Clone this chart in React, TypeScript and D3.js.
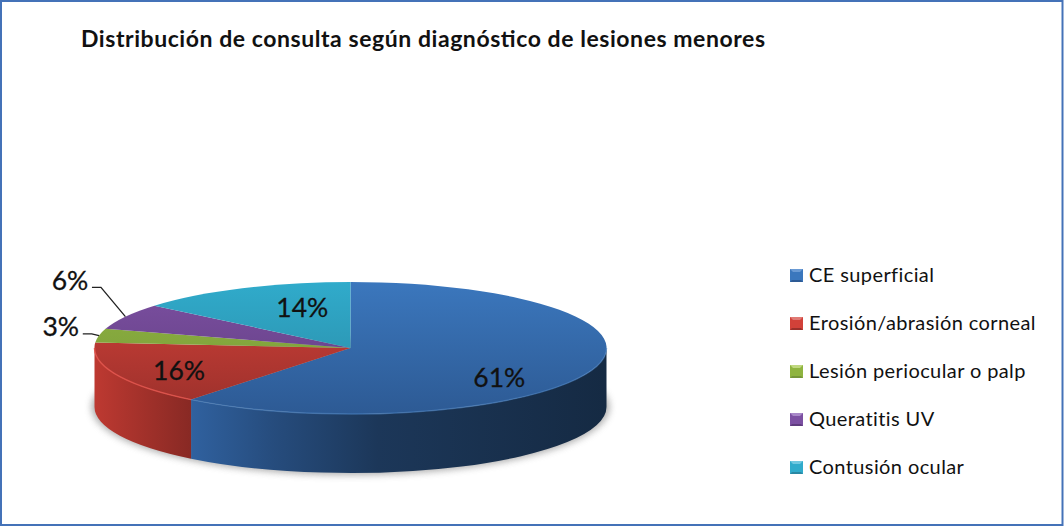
import React from 'react';
import * as d3 from 'd3';

const categories = ['CE superficial', 'Erosión/abrasión corneal', 'Lesión periocular o palp', 'Queratitis UV', 'Contusión ocular'];
const values = [60.7, 15.6, 3.4, 6.4, 13.9];
const topLight = ['#3b77bd', '#d24139', '#8fb440', '#7c50a2', '#30abcb'];
const topDark = ['#2d5a94', '#9a302b', '#76963a', '#5f3c7e', '#2a88a3'];
const rimColors = ['#4a80c0', '#e0524a', '#a0c050', '#8c60b0', '#50bcd8'];
const legendLight = ['#6a9ad4', '#e07a74', '#c0d880', '#a888c8', '#70c8e0'];

// nudges from the slice centroid to the label centre
const labelNudge: [number, number][] = [[28, 19], [-54, 9], [-164, -15], [-168, -52], [6, -11]];
const title = 'Distribución de consulta según diagnóstico de lesiones menores';

const width = 1064;
const height = 526;
const cx = 350.5;
const cy = 348;
const rx = 256;
const ry = 66;
const depth = 59;

const x = d3.scaleLinear().domain([-1, 1]).range([cx - rx, cx + rx]);
const y = d3.scaleLinear().domain([-1, 1]).range([cy - ry, cy + ry]);

const slices = d3.pie<number>().sort(null)(values);
const unitArc = d3.arc<d3.PieArcDatum<number>>().innerRadius(0).outerRadius(1);
const px = (a: number) => x(Math.sin(a));
const py = (a: number) => y(-Math.cos(a));

// front wall of a slice, only the part between 90 and 270 degrees can be seen
function wallPath(start: number, end: number) {
  const a0 = Math.max(start, Math.PI / 2);
  const a1 = Math.min(end, (3 * Math.PI) / 2);
  if (a1 <= a0) return null;
  return `M${px(a0)},${py(a0)}A${rx},${ry} 0 0 1 ${px(a1)},${py(a1)}` +
    `L${px(a1)},${py(a1) + depth}A${rx},${ry} 0 0 0 ${px(a0)},${py(a0) + depth}Z`;
}

function rimPath(start: number, end: number) {
  const a0 = Math.max(start, Math.PI / 2);
  const a1 = Math.min(end, (3 * Math.PI) / 2);
  if (a1 <= a0) return null;
  return `M${px(a0)},${py(a0)}A${rx},${ry} 0 0 1 ${px(a1)},${py(a1)}`;
}

const leader = d3.line();
const legendY = d3.scalePoint<string>().domain(categories).range([275.5, 467.5]);

export default function App() {
  return (
    <svg width={width} height={height} style={{ position: 'absolute', left: 0, top: 0, background: '#fff' }}
      fontFamily="Lato, 'Noto Sans', sans-serif">
      <defs>
        {values.map((_, i) => (
          <linearGradient key={i} id={`top${i}`} gradientUnits="userSpaceOnUse" x1="0" y1="-1" x2="0" y2="1">
            <stop offset="0" stopColor={topLight[i]} />
            <stop offset="1" stopColor={topDark[i]} />
          </linearGradient>
        ))}
        <linearGradient id="wall0" gradientUnits="userSpaceOnUse" x1={191} y1="0" x2={606} y2="0">
          <stop offset="0" stopColor="#30619f" />
          <stop offset="0.2" stopColor="#264c7d" />
          <stop offset="0.45" stopColor="#1c3759" />
          <stop offset="1" stopColor="#152a43" />
        </linearGradient>
        <linearGradient id="wall1" gradientUnits="userSpaceOnUse" x1={95} y1="0" x2={191} y2="0">
          <stop offset="0" stopColor="#bd3931" />
          <stop offset="1" stopColor="#882924" />
        </linearGradient>
        <filter id="blur" x="-10%" y="-30%" width="120%" height="160%">
          <feGaussianBlur stdDeviation="3.5" />
        </filter>
      </defs>

      <rect x={1} y={1} width={width - 2.5} height={height - 2} fill="#fff" stroke="#4472b8" strokeWidth={2} />

      <text x={81} y={47} fontSize={23} fontWeight={700} fill="#111" textLength={684} lengthAdjust="spacing">{title}</text>

      <ellipse cx={cx} cy={cy + depth} rx={rx + 3} ry={ry + 2} fill="#777" opacity={0.6} filter="url(#blur)" />

      {slices.map((s, i) => {
        const d = wallPath(s.startAngle, s.endAngle);
        return d ? <path key={i} d={d} fill={`url(#wall${i})`} /> : null;
      })}

      <g transform={`translate(${cx},${cy}) scale(${rx},${ry})`}>
        {slices.map((s, i) => (
          <path key={i} d={unitArc(s) ?? ''} fill={`url(#top${i})`} />
        ))}
      </g>

      {slices.map((s, i) => {
        const d = rimPath(s.startAngle, s.endAngle);
        return d ? <path key={i} d={d} fill="none" stroke={rimColors[i]} strokeWidth={1.5} opacity={i === 0 ? 0.6 : 0.9} /> : null;
      })}

      {slices.map((s, i) => {
        const [ux, uy] = unitArc.centroid(s);
        const lx = cx + ux * rx + labelNudge[i][0];
        const ly = cy + uy * ry + labelNudge[i][1];
        const mid = (s.startAngle + s.endAngle) / 2;
        const outside = i === 2 || i === 3;
        return (
          <g key={i}>
            {outside && (
              <path
                d={leader([[lx + 22, ly + 7], [lx + 31, ly + 7], [px(mid), py(mid)]]) ?? ''}
                fill="none" stroke="#222" strokeWidth={1.3}
              />
            )}
            <text x={lx} y={ly + 9.5} textAnchor="middle" fontSize={26.5} fill="#111" stroke="#111" strokeWidth={0.3}>{Math.round(values[i])}%</text>
          </g>
        );
      })}

      {categories.map((c, i) => {
        const ly = legendY(c) ?? 0;
        const x0 = 790;
        const s = 13;
        return (
          <g key={c}>
            <rect x={x0} y={ly - 6.5} width={s} height={s} fill={topLight[i]} />
            <path d={`M${x0},${ly - 6.5}h${s}l-3,3h${-s + 6}Z`} fill={legendLight[i]} />
            <path d={`M${x0},${ly + 6.5}h${s}l-2,-2h${-s + 4}Z`} fill={topDark[i]} />
            <text x={809} y={ly + 6.5} fontSize={20} letterSpacing={0.4} fill="#111">{c}</text>
          </g>
        );
      })}
    </svg>
  );
}
